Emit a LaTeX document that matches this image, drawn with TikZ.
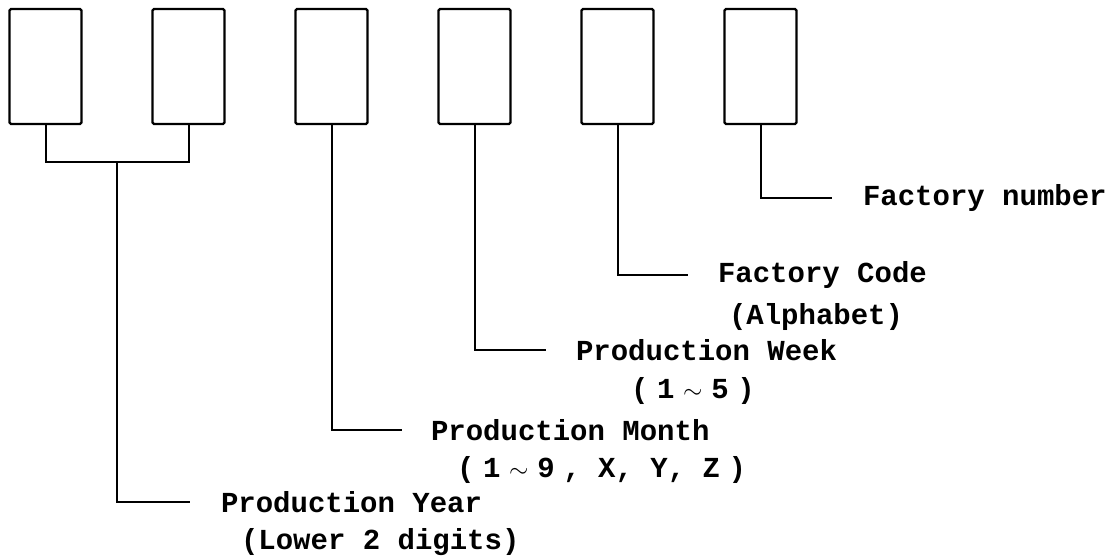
\documentclass[tikz,border=0pt]{standalone}
\usepackage{fontspec}
\setmainfont{Liberation Mono}
\usetikzlibrary{positioning}
\newcommand{\gp}{\hspace{.3em}}

\begin{document}
\begin{tikzpicture}[x=1pt, y=-1pt, line width=2pt,
    every node/.style={font=\bfseries\fontsize{29}{34}\selectfont},
    slot/.style={draw, line width=2.4pt, rounded corners=1.5pt, minimum width=72pt, minimum height=115pt, inner sep=0pt},
    lbl/.style={anchor=west, inner sep=0pt}]
    \useasboundingbox (0,0) rectangle (1114,558);

    % Caselle
    \foreach \i in {1,...,6}
        \node[slot] (d\i) at ({45.5+143*(\i-1)},66.5) {};

    % Etichette
    \node[lbl] (num) at (862,198) {Factory number};
    \node[lbl] (code) at (717,275) {Factory Code};
    \node[lbl] (codesub) at (728,317) {(Alphabet)};
    \node[lbl] (week) at (575,350) {Production Week};
    \node[lbl] (weeksub) at (630,391) {(\gp1\gp$\sim$\gp5\gp)};
    \node[lbl] (month) at (430,430) {Production Month};
    \node[lbl] (monthsub) at (456,470) {(\gp1\gp$\sim$\gp9\gp, X, Y, Z\gp)};
    \node[lbl] (year) at (220,502) {Production Year};
    \node[lbl] (yearsub) at (240,542) {(Lower 2 digits)};

    % Collegamenti
    \coordinate (yj) at (117,162);
    \draw (d1.south) |- (yj) -| (d2.south);
    \draw (yj) |- ([xshift=-30pt]year.west);
    \draw (d3.south) |- ([xshift=-28pt]month.west);
    \draw (d4.south) |- ([xshift=-29pt]week.west);
    \draw (d5.south) |- ([xshift=-29pt]code.west);
    \draw (d6.south) |- ([xshift=-30pt]num.west);
\end{tikzpicture}
\end{document}
